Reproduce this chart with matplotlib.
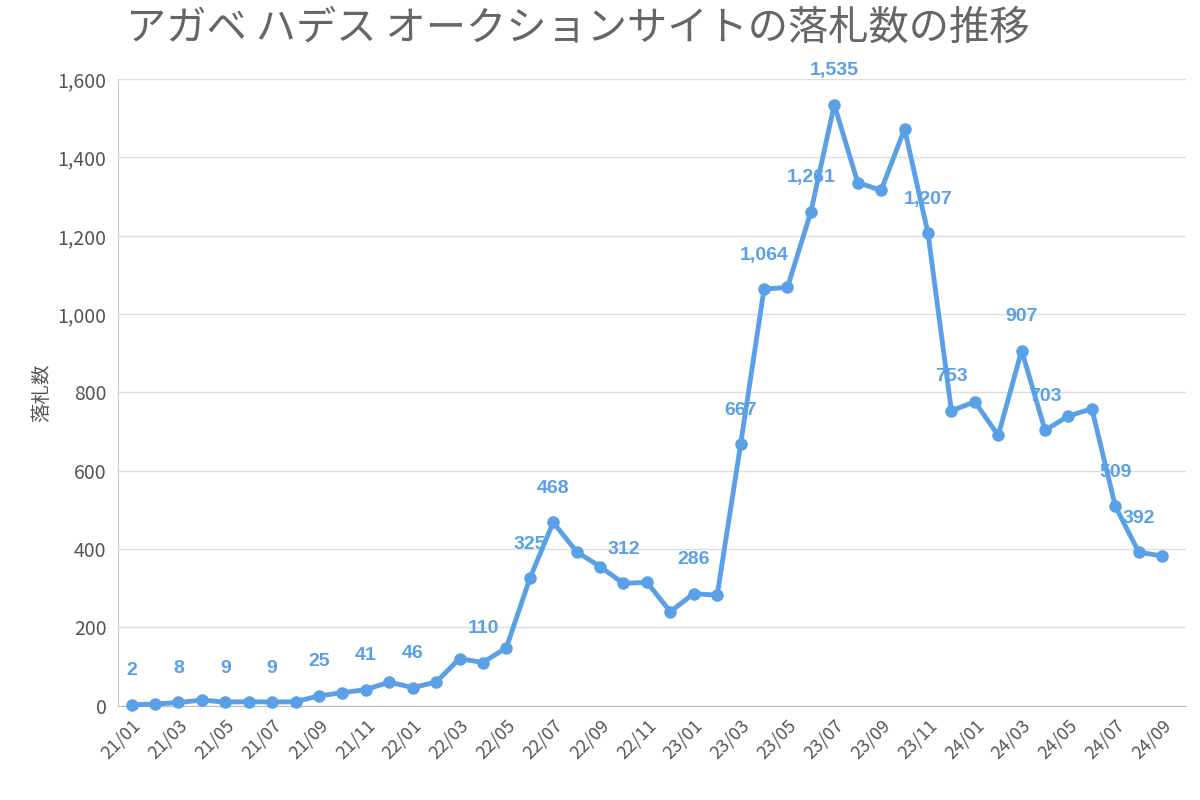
import matplotlib
matplotlib.use("Agg")
import matplotlib.pyplot as plt

plt.rcParams["font.family"] = ["Noto Sans CJK JP"]

months = [f"{y}/{m:02d}" for y in (21, 22, 23, 24) for m in range(1, 13)][:45]
values = [2, 4, 8, 14, 9, 10, 9, 10, 25, 33, 41, 60,
          46, 60, 120, 110, 148, 325, 468, 393, 355, 312, 315, 240,
          286, 282, 667, 1064, 1068, 1261, 1535, 1336, 1316, 1473, 1207, 753,
          776, 690, 907, 703, 740, 758, 509, 392, 382]
label_idx = [0, 2, 4, 6, 8, 10, 12, 15, 17, 18, 21, 24, 26, 27, 29, 30, 34, 35, 38, 39, 42, 43]

blue = "#5aa0e6"
fig = plt.figure(figsize=(12, 8), dpi=100)
ax = fig.add_axes([0.098, 0.118, 0.89, 0.783])
x = list(range(len(values)))
ax.plot(x, values, color=blue, lw=3.5, marker="o", ms=8, zorder=3, clip_on=False)
for i in label_idx:
    ax.text(i, values[i] + 65, f"{values[i]:,}", color=blue, fontsize=14,
            fontweight="bold", ha="center", va="bottom", family="Liberation Sans")
ax.set_ylim(0, 1600)
ax.set_xlim(-0.6, 45.0)
ax.set_yticks(range(0, 1601, 200))
ax.set_yticklabels([f"{v:,}" for v in range(0, 1601, 200)], fontsize=14, color="#555555")
ax.set_xticks(x[::2])
ax.set_xticklabels(months[::2], rotation=45, ha="right", rotation_mode="anchor",
                   fontsize=13, color="#555555")
ax.grid(axis="y", color="#dddddd", lw=1)
for s in ["top", "right"]:
    ax.spines[s].set_visible(False)
ax.spines["left"].set_color("#cccccc")
ax.spines["bottom"].set_color("#bbbbbb")
ax.tick_params(length=0, pad=8)
ax.set_ylabel("落札数", fontsize=14, color="#555555")
fig.text(0.105, 0.965, "アガベ ハデス オークションサイトの落札数の推移", fontsize=29,
         color="#666666", va="center")
fig.savefig("out.png")
